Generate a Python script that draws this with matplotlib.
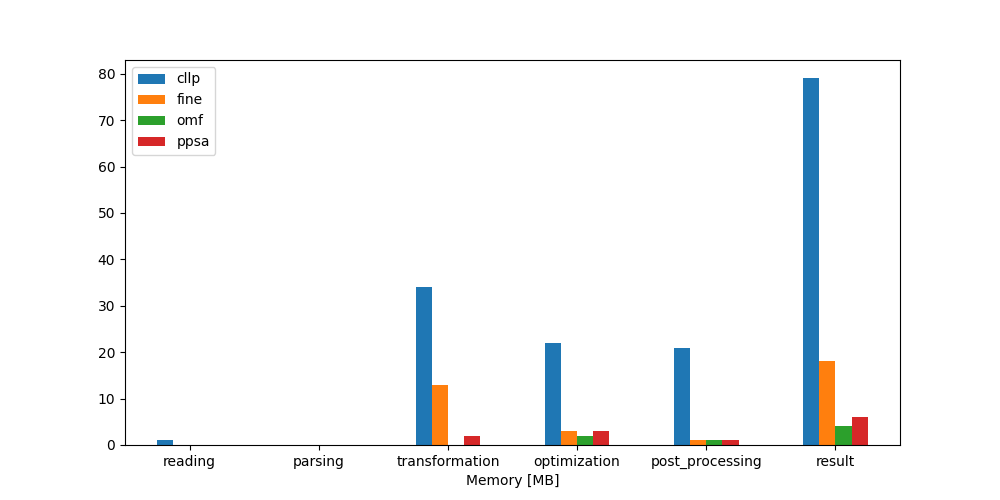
import numpy as np
import matplotlib
matplotlib.use("Agg")
import matplotlib.pyplot as plt

stages = ["reading", "parsing", "transformation", "optimization", "post_processing", "result"]
cllp = [1, 0, 34, 22, 21, 79]
fine = [0, 0, 13, 3, 1, 18]
omf = [0, 0, 0, 2, 1, 4]
ppsa = [0, 0, 2, 3, 1, 6]

series = {"cllp": cllp, "fine": fine, "omf": omf, "ppsa": ppsa}

fig, ax = plt.subplots(figsize=(10, 5), dpi=100)
x = np.arange(len(stages))
width = 0.125
for i, (name, vals) in enumerate(series.items()):
    ax.bar(x + (i - 1.5) * width, vals, width, label=name)

ax.set_xticks(x)
ax.set_xticklabels(stages)
ax.set_xlim(-0.5, len(stages) - 0.5)
ax.set_xlabel("Memory [MB]")
ax.legend(loc="upper left")
fig.savefig("out.png")
